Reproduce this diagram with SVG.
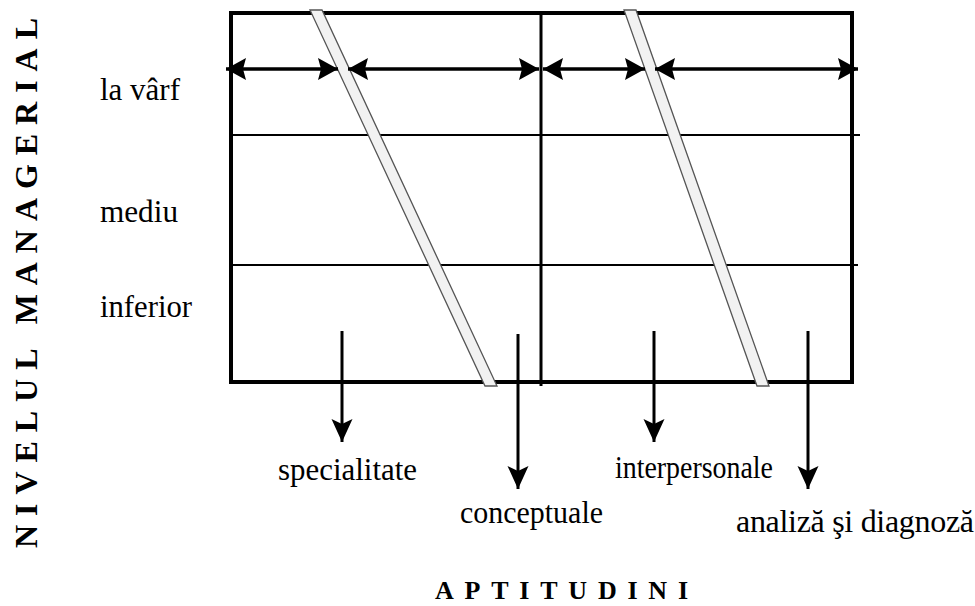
<svg xmlns="http://www.w3.org/2000/svg" width="975" height="606" viewBox="0 0 975 606">
<style>
.box{fill:none;stroke:#000;stroke-width:4}
.thin{stroke:#000;stroke-width:2}
.mid{stroke:#000;stroke-width:3}
.band{fill:#f2f2f2;stroke:#555;stroke-width:1.3}
.harr{stroke:#000;stroke-width:3.5;fill:none;marker-start:url(#ha);marker-end:url(#ha)}
.varr{stroke:#000;stroke-width:3;fill:none;marker-end:url(#va)}
.lbl{font-family:"Liberation Serif","Times New Roman",serif;font-size:32px;fill:#000}
.title{font-family:"Liberation Serif","Times New Roman",serif;font-weight:bold;fill:#000}
</style>
<defs>
<marker id="ha" markerUnits="userSpaceOnUse" markerWidth="22" markerHeight="24" viewBox="0 0 22 24" refX="20" refY="12" orient="auto-start-reverse">
<path d="M0,1 L20,12 L0,23 L3,12 Z" fill="#000"/>
</marker>
<marker id="va" markerUnits="userSpaceOnUse" markerWidth="24" markerHeight="24" viewBox="0 0 24 24" refX="23" refY="12" orient="auto">
<path d="M0,1.5 L23,12 L0,22.5 L5,12 Z" fill="#000"/>
</marker>
</defs>

<g id="grid">
<rect class="box" x="231" y="13" width="621" height="369"/>
<line class="mid" x1="541" y1="13" x2="541" y2="386"/>
<line class="thin" x1="231" y1="135" x2="860" y2="135"/>
<line class="thin" x1="231" y1="265" x2="858" y2="265"/>
</g>

<g id="band1">
<polygon class="band" points="310,10 322,10 497,386 485,386"/>
</g>
<g id="band2">
<polygon class="band" points="624,10 636,10 769,386 757,386"/>
</g>

<g id="connectors">
<line class="harr" x1="226" y1="69" x2="338" y2="69"/>
<line class="harr" x1="348" y1="69" x2="539" y2="69"/>
<line class="harr" x1="543" y1="69" x2="645" y2="69"/>
<line class="harr" x1="655" y1="69" x2="858" y2="69"/>
<line class="varr" x1="342" y1="331" x2="342" y2="442"/>
<line class="varr" x1="518" y1="334" x2="518" y2="489"/>
<line class="varr" x1="654" y1="331" x2="654" y2="442"/>
<line class="varr" x1="808" y1="331" x2="808" y2="489"/>
</g>

<g id="levels">
<text class="lbl" x="100" y="100" textLength="80" lengthAdjust="spacingAndGlyphs">la vârf</text>
<text class="lbl" x="100" y="222" textLength="78" lengthAdjust="spacingAndGlyphs">mediu</text>
<text class="lbl" x="100" y="317" textLength="92" lengthAdjust="spacingAndGlyphs">inferior</text>
</g>

<g id="skills">
<text class="lbl" x="278" y="480" textLength="139" lengthAdjust="spacingAndGlyphs">specialitate</text>
<text class="lbl" x="460" y="523" textLength="143" lengthAdjust="spacingAndGlyphs">conceptuale</text>
<text class="lbl" x="615" y="478" textLength="158" lengthAdjust="spacingAndGlyphs">interpersonale</text>
<text class="lbl" x="736" y="532" font-size="30" letter-spacing="-0.3">analiză şi diagnoză</text>
</g>

<g id="axes">
<text class="title" x="435" y="599" font-size="26" textLength="253" lengthAdjust="spacing">APTITUDINI</text>
<text class="title" transform="translate(37,548) rotate(-90)" x="0" y="0" font-size="32" textLength="530" lengthAdjust="spacing">NIVELUL MANAGERIAL</text>
</g>
</svg>
